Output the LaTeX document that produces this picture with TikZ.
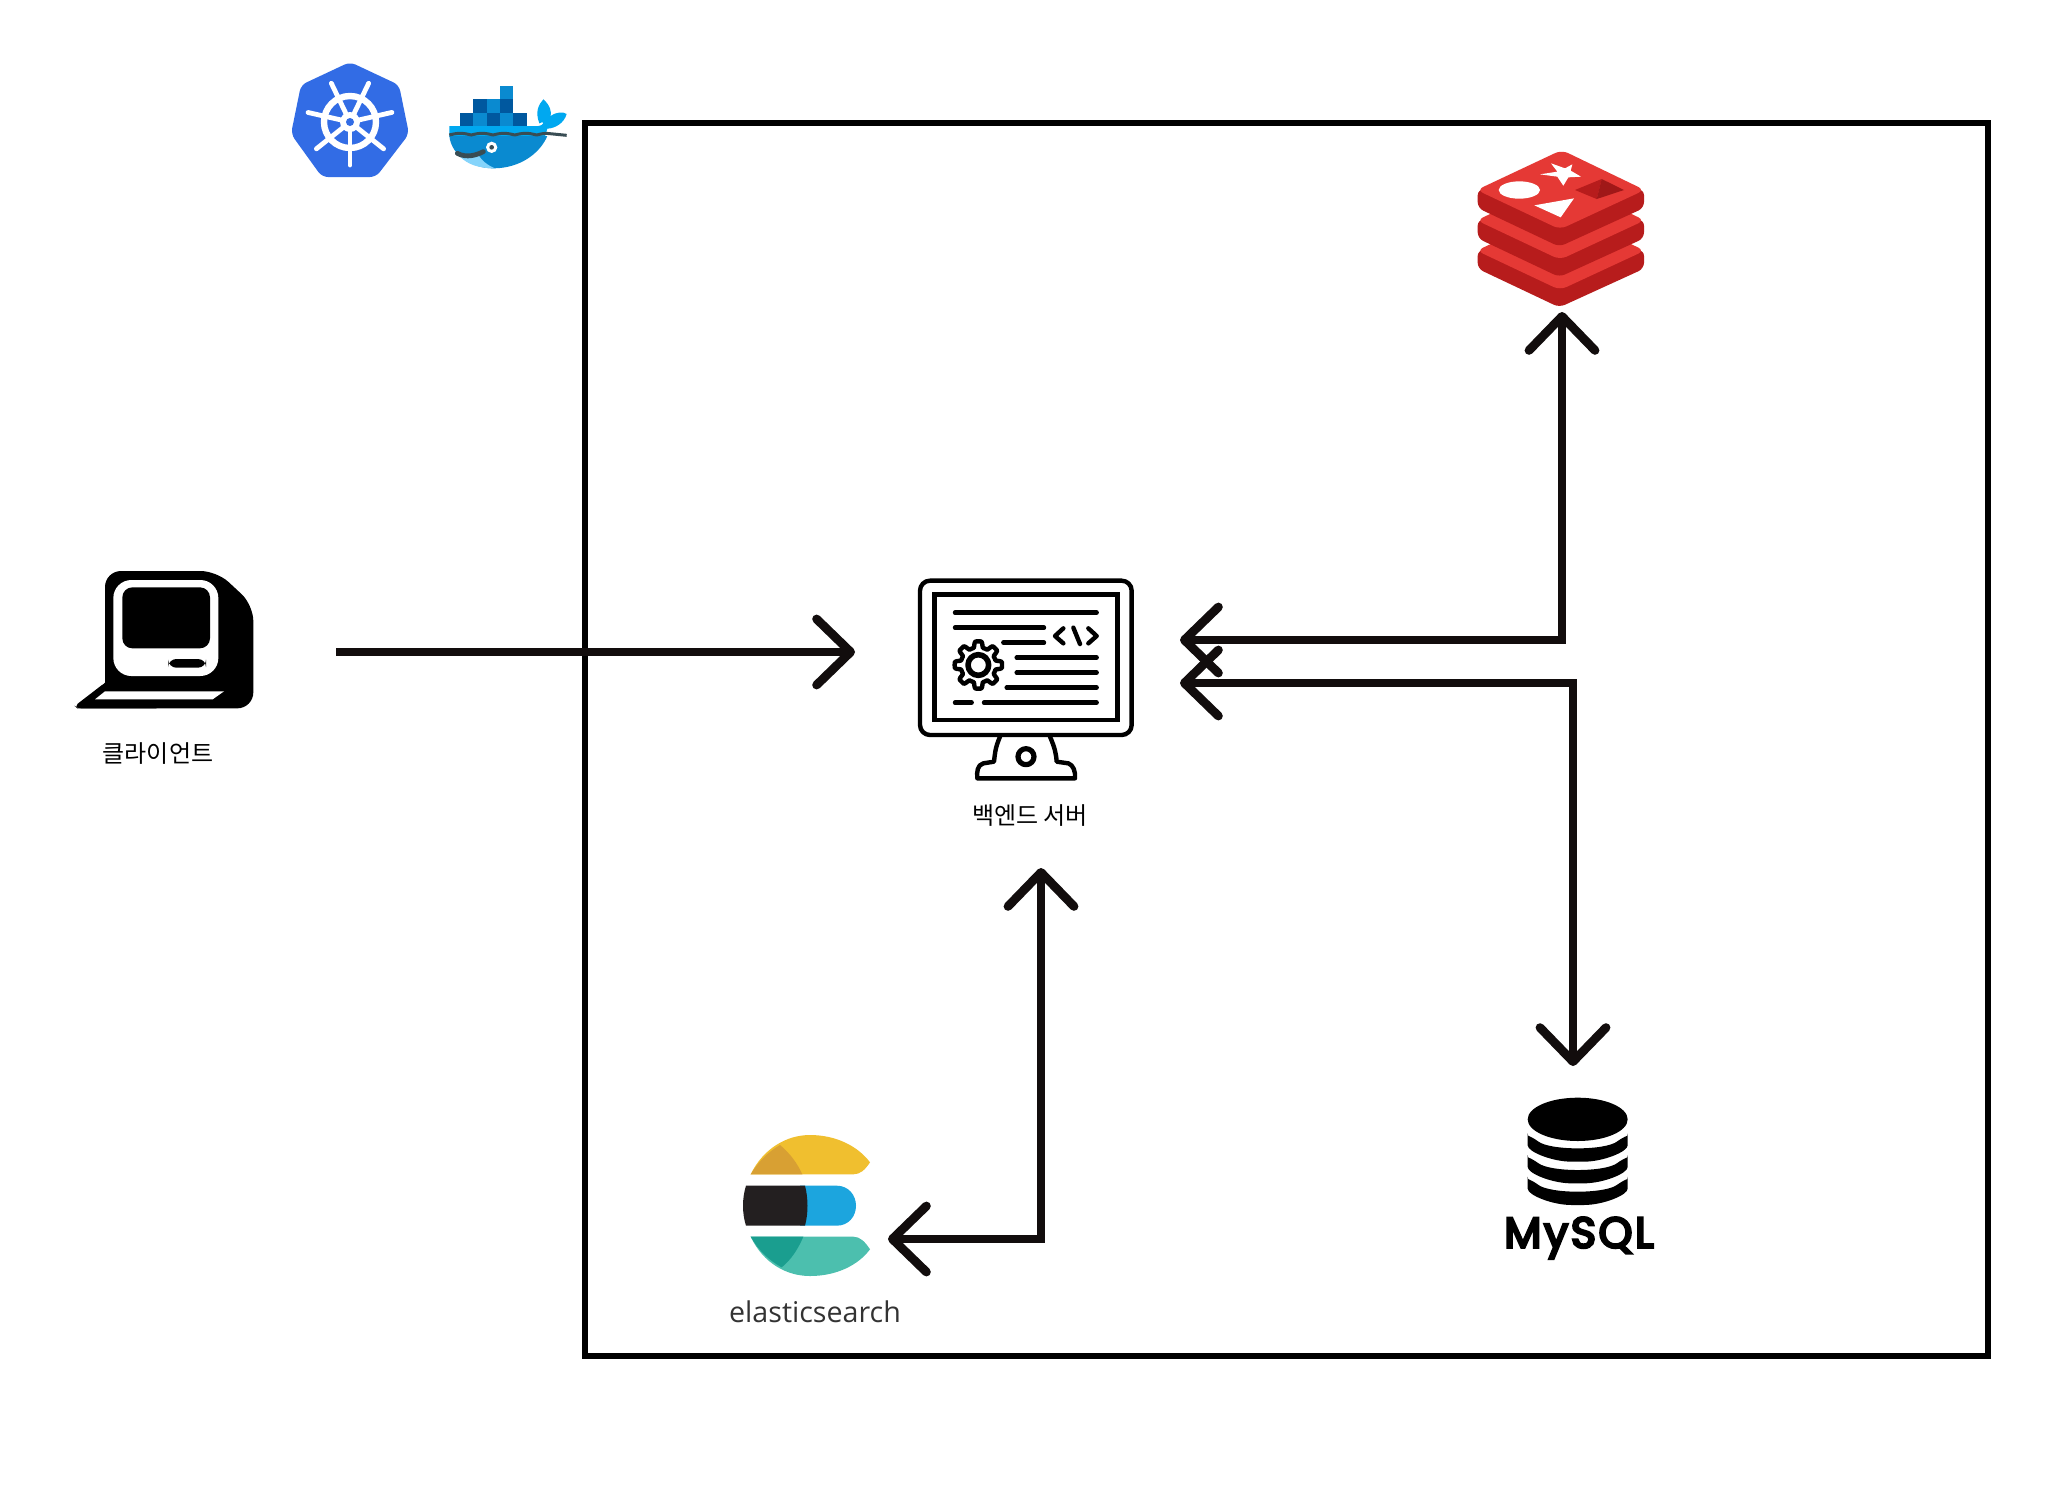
\documentclass[tikz,border=0pt]{standalone}
\usepackage{fontspec}
\usetikzlibrary{arrows.meta}
\newfontfamily\krfont{Noto Sans CJK KR}
\newfontfamily\esfont{Open Sans}
\newfontfamily\dbfont[LetterSpace=6,FakeBold=6]{Poppins}
\definecolor{kubeblue}{HTML}{326CE5}
\definecolor{dockdark}{HTML}{00589F}
\definecolor{dockmid}{HTML}{0A8AD0}
\definecolor{docklight}{HTML}{00A8F0}
\definecolor{dockpale}{HTML}{85D4FB}
\definecolor{dockline}{HTML}{394D54}
\definecolor{redisface}{HTML}{E53935}
\definecolor{redisside}{HTML}{B71C1C}
\definecolor{redispit}{HTML}{A01818}
\definecolor{esyellow}{HTML}{F0BF2F}
\definecolor{esyellowd}{HTML}{D8A033}
\definecolor{esblack}{HTML}{231F20}
\definecolor{esblue}{HTML}{1CA5DE}
\definecolor{esteal}{HTML}{4CBFAE}
\definecolor{estealdark}{HTML}{1A9E8F}
\definecolor{linkblack}{HTML}{120D0D}
\tikzset{
    x=0.5pt, y=-0.5pt,
    krlabel/.style={font=\krfont\fontsize{12pt}{14pt}\selectfont, inner sep=0pt},
    link/.style={draw=linkblack, line width=4.4pt, line join=miter},
    headboth/.style={{Straight Barb[round,length=17pt,width=33pt]}-{Straight Barb[round,length=17pt,width=33pt]}},
    headend/.style={-{Straight Barb[round,length=17pt,width=33pt]}},
    monitorline/.style={line width=2.2pt, line cap=round, line join=round}
}
\begin{document}
\begin{tikzpicture}
  \useasboundingbox (0,0) rectangle (2050,1506);
  \fill[white] (0,0) rectangle (2050,1506);

  \coordinate (box nw) at (585,123);
  \coordinate (box se) at (1988,1356);
  \draw[line width=2.75pt] (box nw) rectangle (box se);

  % kubernetes
  \fill[kubeblue, rounded corners=3pt] (350,62) -- (399,85) -- (409,134) -- (376,177)
    -- (322,177) -- (291,134) -- (301,85) -- cycle;
  \draw[white, line width=3.2pt] (350,122) circle (26);
  \foreach \ang in {90,141.4,192.8,244.3,295.7,347.1,38.6}
    \draw[white, line width=2.4pt, line cap=round] (350,122) -- ++(\ang:43);
  \fill[white] (350,122) circle (10);
  \fill[kubeblue] (350,122) circle (4);

  % docker
  \begin{scope}[shift={(260,40)}, scale=1/3]
    \foreach \cx/\cy/\col in {600/218/dockdark,640/218/dockmid,680/218/dockdark,720/218/dockmid,760/218/dockdark,
                              640/178/dockdark,680/178/dockmid,720/178/dockdark,720/138/dockmid}
      \fill[\col] (\cx,\cy) rectangle +(40,40);
    \fill[docklight] (568,258) -- (835,258) .. controls (850,258) and (858,240) .. (838,250)
      .. controls (825,215) and (835,195) .. (850,178) .. controls (870,195) and (875,215) .. (872,228)
      .. controls (890,215) and (910,215) .. (920,222) .. controls (912,250) and (885,265) .. (862,266)
      -- (855,290) -- (568,290) -- cycle;
    \fill[dockmid] (568,288) .. controls (575,350) and (640,385) .. (700,385)
      .. controls (780,385) and (840,340) .. (862,288) -- cycle;
    \fill[dockpale] (600,350) .. controls (620,370) and (650,385) .. (705,385)
      .. controls (680,375) and (665,360) .. (655,345) -- cycle;
    \draw[dockline, line width=1.5pt] plot[samples=90, domain=568:860] (\x,{285-5*abs(sin(2.75*(\x-568)))}) -- (920,286);
    \draw[dockline, line width=2.4pt, line cap=round] (592,340) .. controls (620,355) and (650,345) .. (670,335);
    \fill[white] (695,322) circle (17);
    \fill[dockline] (695,322) circle (7);
  \end{scope}

  % redis
  \begin{scope}[shift={(1440,130)}, scale=1/3]
    \foreach \dy in {182,91,0} {
      \fill[redisside, rounded corners=3pt] (113,178+\dy) -- (113,234+\dy) -- (358,350+\dy) -- (612,234+\dy) -- (612,178+\dy) -- cycle;
      \fill[redisface, rounded corners=3.5pt] (365,60+\dy) -- (110,180+\dy) -- (360,298+\dy) -- (614,180+\dy) -- cycle;
    }
    \fill[white] (300,133) -- (352,125) -- (333,100) -- (375,115) -- (397,103) -- (392,122) -- (423,140) -- (385,142) -- (370,167) -- (352,140) -- cycle;
    \fill[white] (238,180) ellipse (62 and 26);
    \fill[white] (283,226) -- (402,205) -- (362,262) -- cycle;
    \fill[redisside] (405,180) -- (485,147) -- (470,207) -- cycle;
    \fill[redispit] (485,147) -- (552,180) -- (470,207) -- cycle;
  \end{scope}

  % client
  \begin{scope}[shift={(60,550)}, scale=1/3]
    \fill[black, rounded corners=8pt] (135,398) -- (135,63) -- (470,63) -- (580,165) -- (580,475) -- (52,475);
    \fill[black, rounded corners=2pt] (44,468) -- (135,398) -- (300,398) -- (300,475) -- (52,475) -- cycle;
    \fill[white, rounded corners=9pt] (160,90) rectangle (475,378);
    \fill[black, rounded corners=5pt] (187,112) rectangle (450,295);
    \fill[black, rounded corners=4pt] (325,327) rectangle (438,353);
    \fill[white] (105,448) -- (135,424) -- (492,424) -- (458,448) -- cycle;
  \end{scope}
  \node[krlabel] (client) at (158,754) {클라이언트};

  % backend
  \begin{scope}[shift={(900,560)}, scale=1/3]
    \draw[monitorline, rounded corners=5pt] (60,62) rectangle (695,525);
    \draw[monitorline, line cap=butt, line join=miter] (103,103) rectangle (652,480);
    \foreach \ya/\xa/\xb in {158/165/590,203/165/432,248/310/432,293/350/590,338/350/590,383/320/590,428/165/215,428/252/590}
      \draw[monitorline] (\xa,\ya) -- (\xb,\ya);
    \draw[monitorline] (490,205) -- (465,228) -- (490,250);
    \draw[monitorline] (565,205) -- (590,228) -- (565,250);
    \draw[monitorline] (520,203) -- (540,252);
    \draw[monitorline, fill=white] plot[smooth, samples=145, domain=0:360, shift={(235,315)}]
      (\x:{62+9*max(min(2.5*cos(8*\x),1),-1)}) -- cycle;
    \draw[monitorline, line width=2.8pt] (235,315) circle (31);
    \draw[monitorline] (300,530) .. controls (285,565) and (285,580) .. (282,605)
      -- (250,610) .. controls (232,615) and (230,635) .. (232,655) -- (525,655)
      .. controls (527,635) and (520,615) .. (505,610) -- (470,605)
      .. controls (468,580) and (465,565) .. (450,530);
    \draw[monitorline, line width=2.6pt] (378,590) circle (24);
  \end{scope}
  \node[krlabel] (backend) at (1030,816) {백엔드 서버};

  % elasticsearch
  \begin{scope}[shift={(710,1120)}, scale=1/3]
    \fill[esyellow] (122,163) .. controls (160,85) and (230,45) .. (300,45)
      .. controls (380,45) and (445,80) .. (480,127) .. controls (465,150) and (450,163) .. (430,163) -- cycle;
    \fill[esyellowd] (122,163) .. controls (145,125) and (175,95) .. (210,75) .. controls (240,100) and (262,130) .. (277,163) -- cycle;
    \fill[esblue] (270,197) -- (380,197) .. controls (415,197) and (438,225) .. (438,257)
      .. controls (438,290) and (415,317) .. (380,317) -- (270,317) -- cycle;
    \fill[esblack] (108,197) -- (285,197) .. controls (295,235) and (295,280) .. (285,317)
      -- (108,317) .. controls (96,280) and (96,235) .. (108,197) -- cycle;
    \fill[esteal] (122,350) -- (430,350) .. controls (450,350) and (465,365) .. (480,388)
      .. controls (445,435) and (380,468) .. (300,468) .. controls (230,468) and (160,430) .. (122,350) -- cycle;
    \fill[estealdark] (122,350) -- (280,350) .. controls (265,385) and (245,418) .. (215,442)
      .. controls (175,420) and (145,390) .. (122,350) -- cycle;
  \end{scope}
  \node[inner sep=0pt, text=black!80, font=\esfont\fontsize{14.3pt}{16pt}\selectfont] (elastic) at (815,1312) {elasticsearch};

  % mysql
  \begin{scope}[shift={(1480,1080)}, scale=1/3]
    \fill[black] (293,118) ellipse (150 and 65);
    \foreach \dy in {0,65,130}
      \fill[black, rounded corners=3pt] (143,178+\dy) .. controls (143,172+\dy) and (152,170+\dy) .. (160,173+\dy)
        .. controls (210,212+\dy) and (376,212+\dy) .. (426,173+\dy)
        .. controls (434,170+\dy) and (443,172+\dy) .. (443,178+\dy)
        .. controls (443,215+\dy) and (370,245+\dy) .. (293,245+\dy)
        .. controls (216,245+\dy) and (143,215+\dy) .. (143,178+\dy) -- cycle;
  \end{scope}
  \node[inner sep=0pt, font=\dbfont\fontsize{21.5pt}{25pt}\selectfont] (mysql) at (1579,1238) {MySQL};

  \coordinate (client out) at (336,652);
  \coordinate (backend left) at (855,652);
  \coordinate (redis top) at (1180,640);
  \coordinate (redis tip) at (1562,312);
  \coordinate (mysql top) at (1180,683);
  \coordinate (mysql tip) at (1573,1066);
  \coordinate (elastic tip) at (888,1239);
  \coordinate (backend low) at (1041,868);

  \draw[link, headend] (client out) -- (backend left);
  \draw[link, headboth] (redis top) -| (redis tip);
  \draw[link, headboth] (mysql top) -| (mysql tip);
  \draw[link, headboth] (elastic tip) -| (backend low);
\end{tikzpicture}
\end{document}
